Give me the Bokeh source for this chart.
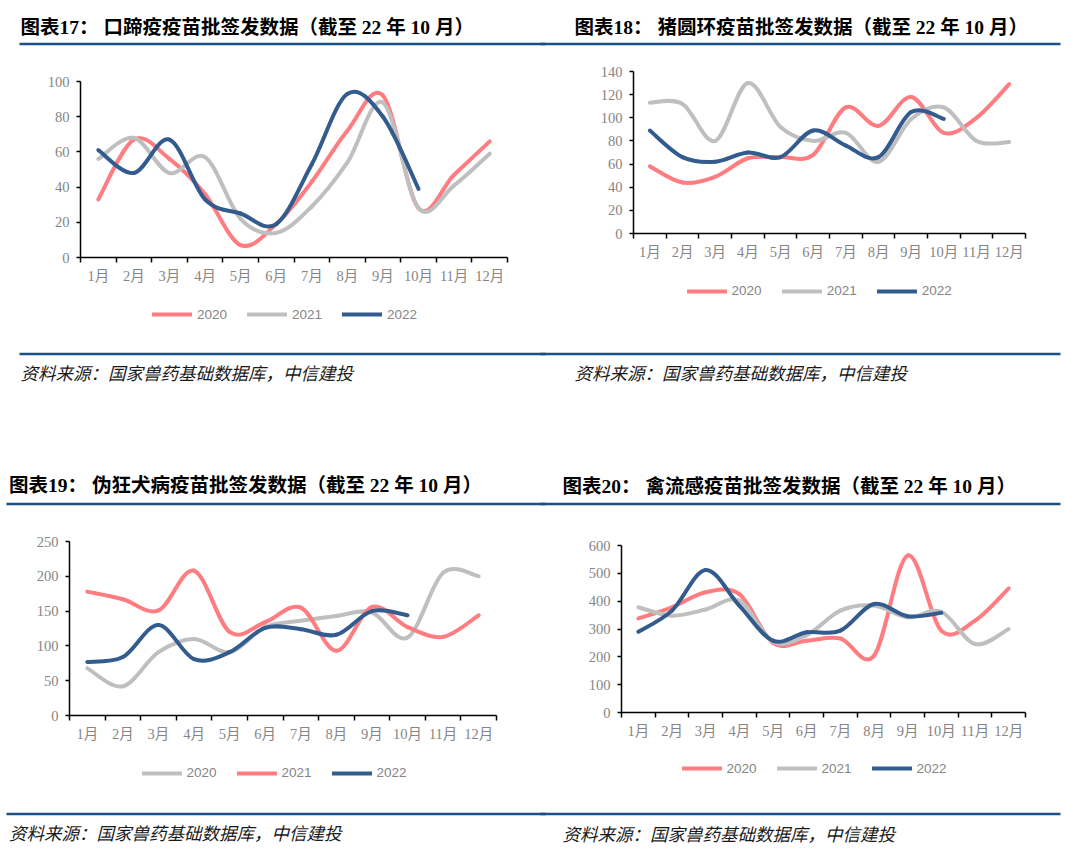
from bokeh.plotting import figure
from bokeh.models import Range1d, FixedTicker, Legend, LegendItem, CustomJSTickFormatter
from bokeh.layouts import column, row
from bokeh.core.properties import value
from bokeh.embed import file_html
from bokeh.resources import INLINE

# ---------------- data ----------------
months = ["1月", "2月", "3月", "4月", "5月", "6月", "7月", "8月", "9月", "10月", "11月", "12月"]
years = ["2020", "2021", "2022"]

titles = [
    "图表17：  口蹄疫疫苗批签发数据（截至 22 年 10 月）",
    "图表18：  猪圆环疫苗批签发数据（截至 22 年 10 月）",
    "图表19：  伪狂犬病疫苗批签发数据（截至 22 年 10 月）",
    "图表20：  禽流感疫苗批签发数据（截至 22 年 10 月）",
]
source_text = "资料来源：国家兽药基础数据库，中信建投"

fmd_2020 = [33, 67, 56, 36, 7, 19, 43, 72, 92, 28, 47, 66]
fmd_2021 = [56, 68, 48, 57, 22, 14, 29, 54, 88, 28, 41, 59]
fmd_2022 = [61, 48, 67, 33, 25, 19, 53, 93, 80, 39]

pcv_2020 = [58, 44, 49, 65, 66, 68, 109, 93, 118, 87, 100, 129]
pcv_2021 = [113, 112, 80, 130, 92, 80, 87, 62, 99, 109, 80, 79]
pcv_2022 = [89, 66, 62, 70, 66, 89, 76, 66, 105, 99]

prv_2020 = [68, 42, 91, 110, 91, 127, 136, 143, 148, 112, 205, 200]
prv_2021 = [178, 167, 151, 208, 120, 134, 155, 93, 156, 127, 113, 144]
prv_2022 = [77, 84, 130, 81, 91, 126, 124, 116, 150, 144]

ai_2020 = [338, 378, 432, 425, 250, 258, 266, 204, 564, 294, 330, 446]
ai_2021 = [378, 348, 370, 402, 254, 278, 366, 384, 342, 362, 246, 300]
ai_2022 = [290, 366, 512, 384, 258, 288, 294, 390, 346, 358]

y_ticks_fmd = [0, 20, 40, 60, 80, 100]
y_ticks_pcv = [0, 20, 40, 60, 80, 100, 120, 140]
y_ticks_prv = [0, 50, 100, 150, 200, 250]
y_ticks_ai = [0, 100, 200, 300, 400, 500, 600]

# ---------------- style ----------------
PINK = "#FF7C80"
GRAY = "#BFBFBF"
BLUE = "#335C8E"
RULE = "#1B4F86"
TICK_GRAY = "#858585"
SERIF = "'Liberation Serif', 'Noto Sans CJK SC'"
SANS = "'Liberation Sans', Arial, sans-serif"
CJK = "'Noto Sans CJK SC'"


def bezier_source(vals):
    """Catmull-Rom style control points (Excel smoothed line) for the data values."""
    n = len(vals)
    xs = [i + 0.5 for i in range(n)]
    d = dict(x0=[], y0=[], x1=[], y1=[], cx0=[], cy0=[], cx1=[], cy1=[])
    for i in range(n - 1):
        a = max(i - 1, 0)
        b = min(i + 2, n - 1)
        d["x0"].append(xs[i]); d["y0"].append(vals[i])
        d["x1"].append(xs[i + 1]); d["y1"].append(vals[i + 1])
        d["cx0"].append(xs[i] + (xs[i + 1] - xs[a]) / 6.0)
        d["cy0"].append(vals[i] + (vals[i + 1] - vals[a]) / 6.0)
        d["cx1"].append(xs[i + 1] - (xs[b] - xs[i]) / 6.0)
        d["cy1"].append(vals[i + 1] - (vals[b] - vals[i]) / 6.0)
    return d


def no_align(p):
    try:
        p.frame_align = False
    except Exception:
        pass


def make_chart(series, yticks, w, h, mbl, mbr, mbt, mbb):
    p = figure(width=w, height=h, x_range=Range1d(0, 12), y_range=Range1d(yticks[0], yticks[-1]),
               toolbar_location=None, output_backend="svg",
               min_border_left=mbl, min_border_right=mbr, min_border_top=mbt, min_border_bottom=mbb)
    no_align(p)
    p.outline_line_color = None
    p.xgrid.visible = False
    p.ygrid.visible = False

    xa = p.xaxis[0]
    xa.ticker = FixedTicker(ticks=[i + 0.5 for i in range(12)], minor_ticks=list(range(13)))
    xa.formatter = CustomJSTickFormatter(args=dict(labels=months),
                                         code="const k = Math.floor(tick); return (k >= 0 && k < labels.length) ? labels[k] : '';")
    xa.major_tick_line_color = None
    xa.major_tick_out = 0
    xa.major_tick_in = 0
    xa.minor_tick_out = 5
    xa.minor_tick_in = 0
    xa.minor_tick_line_color = "black"
    xa.minor_tick_line_width = 1.5
    xa.major_label_standoff = 5

    ya = p.yaxis[0]
    ya.ticker = FixedTicker(ticks=yticks)
    ya.major_tick_out = 4
    ya.major_tick_in = 0
    ya.minor_tick_out = 0
    ya.minor_tick_in = 0
    ya.major_tick_line_width = 1.5
    ya.major_label_standoff = 7

    for ax in (xa, ya):
        ax.axis_line_color = "black"
        ax.axis_line_width = 1.5
        ax.major_label_text_font = SERIF
        ax.major_label_text_font_size = "14.5px"
        ax.major_label_text_color = TICK_GRAY

    for name, vals, color in series:
        p.bezier(source=bezier_source(vals), x0="x0", y0="y0", x1="x1", y1="y1",
                 cx0="cx0", cy0="cy0", cx1="cx1", cy1="cy1",
                 line_color=color, line_width=4, line_cap="round")
    return p


def make_legend(series, w, h, lx, ly):
    # legend-only panel: the series lines lie outside this panel's ranges, only the legend shows
    p = figure(width=w, height=h, x_range=Range1d(-20, -19), y_range=Range1d(-20, -19),
               x_axis_type=None, y_axis_type=None, toolbar_location=None, output_backend="svg",
               min_border=0)
    no_align(p)
    p.outline_line_color = None
    items = []
    for name, vals, color in series:
        r = p.line(x=[i + 0.5 for i in range(len(vals))], y=vals,
                   line_color=color, line_width=4, line_cap="round")
        items.append(LegendItem(label=name, renderers=[r]))
    leg = Legend(items=items, location=(lx, ly), orientation="horizontal",
                 glyph_width=40, glyph_height=16, label_height=16, label_standoff=5,
                 spacing=20, padding=0, margin=0,
                 border_line_color=None, background_fill_alpha=0,
                 label_text_font=SANS, label_text_font_size="13.5px", label_text_color=TICK_GRAY)
    p.add_layout(leg, "center")
    return p


def strip(y_top, y_bot):
    p = figure(width=1064, height=y_bot - y_top, x_range=Range1d(0, 1064), y_range=Range1d(y_bot, y_top),
               x_axis_type=None, y_axis_type=None, toolbar_location=None, output_backend="svg",
               min_border=0)
    no_align(p)
    p.outline_line_color = None
    return p


def rule(p, x0, x1, y):
    p.segment(x0=[x0], y0=[y], x1=[x1], y1=[y], line_color=RULE, line_width=2.5)


def title(p, x, y, t):
    p.text(x=[x], y=[y], text=[t], text_font=value(SERIF), text_font_style="bold",
           text_font_size="19.5px", text_color="black", text_baseline="middle", text_align="left")


def source(p, x, y):
    p.text(x=[x], y=[y], text=[source_text], text_font=value(CJK), text_font_style="italic",
           text_font_size="17.5px", text_color="#1a1a1a", text_baseline="middle", text_align="left")


s1 = [(years[0], fmd_2020, PINK), (years[1], fmd_2021, GRAY), (years[2], fmd_2022, BLUE)]
s2 = [(years[0], pcv_2020, PINK), (years[1], pcv_2021, GRAY), (years[2], pcv_2022, BLUE)]
s3 = [(years[0], prv_2020, GRAY), (years[1], prv_2021, PINK), (years[2], prv_2022, BLUE)]
s4 = [(years[0], ai_2020, PINK), (years[1], ai_2021, GRAY), (years[2], ai_2022, BLUE)]

# top strip (page y 0..56)
top = strip(0, 56)
title(top, 20, 26.7, titles[0])
title(top, 574, 26.7, titles[1])
rule(top, 19, 545, 43.5)
rule(top, 540, 1060, 43.5)

# charts row 1 (page y 56..350)
c1 = make_chart(s1, y_ticks_fmd, 540, 244, 80, 33, 25, 43)
l1 = make_legend(s1, 540, 50, 152, 27.7)
c2 = make_chart(s2, y_ticks_pcv, 524, 219, 93, 39, 15, 42)
l2 = make_legend(s2, 524, 75, 146.6, 51.3)

# middle strip (page y 350..525)
mid = strip(350, 525)
rule(mid, 19, 545, 353.5)
rule(mid, 540, 1060, 353.5)
source(mid, 20, 371.7)
source(mid, 574, 371.7)
title(mid, 8.6, 485, titles[2])
title(mid, 562, 486, titles[3])
rule(mid, 6, 545, 503.5)
rule(mid, 540, 1060, 503.5)

# charts row 2 (page y 525..805)
c3 = make_chart(s3, y_ticks_prv, 540, 230, 69, 44, 16, 40)
l3 = make_legend(s3, 540, 50, 141.5, 24.3)
c4 = make_chart(s4, y_ticks_ai, 524, 230, 81, 39, 20, 43)
l4 = make_legend(s4, 524, 50, 141.5, 28.7)

# bottom strip (page y 805..853)
bot = strip(805, 853)
rule(bot, 6, 545, 813.5)
rule(bot, 540, 1060, 813.5)
source(bot, 8.6, 831.7)
source(bot, 562, 832.7)

layout = column(top,
                row(column(c1, l1), column(c2, l2)),
                mid,
                row(column(c3, l3), column(c4, l4)),
                bot)
open("out.html", "w").write(file_html(layout, INLINE))
